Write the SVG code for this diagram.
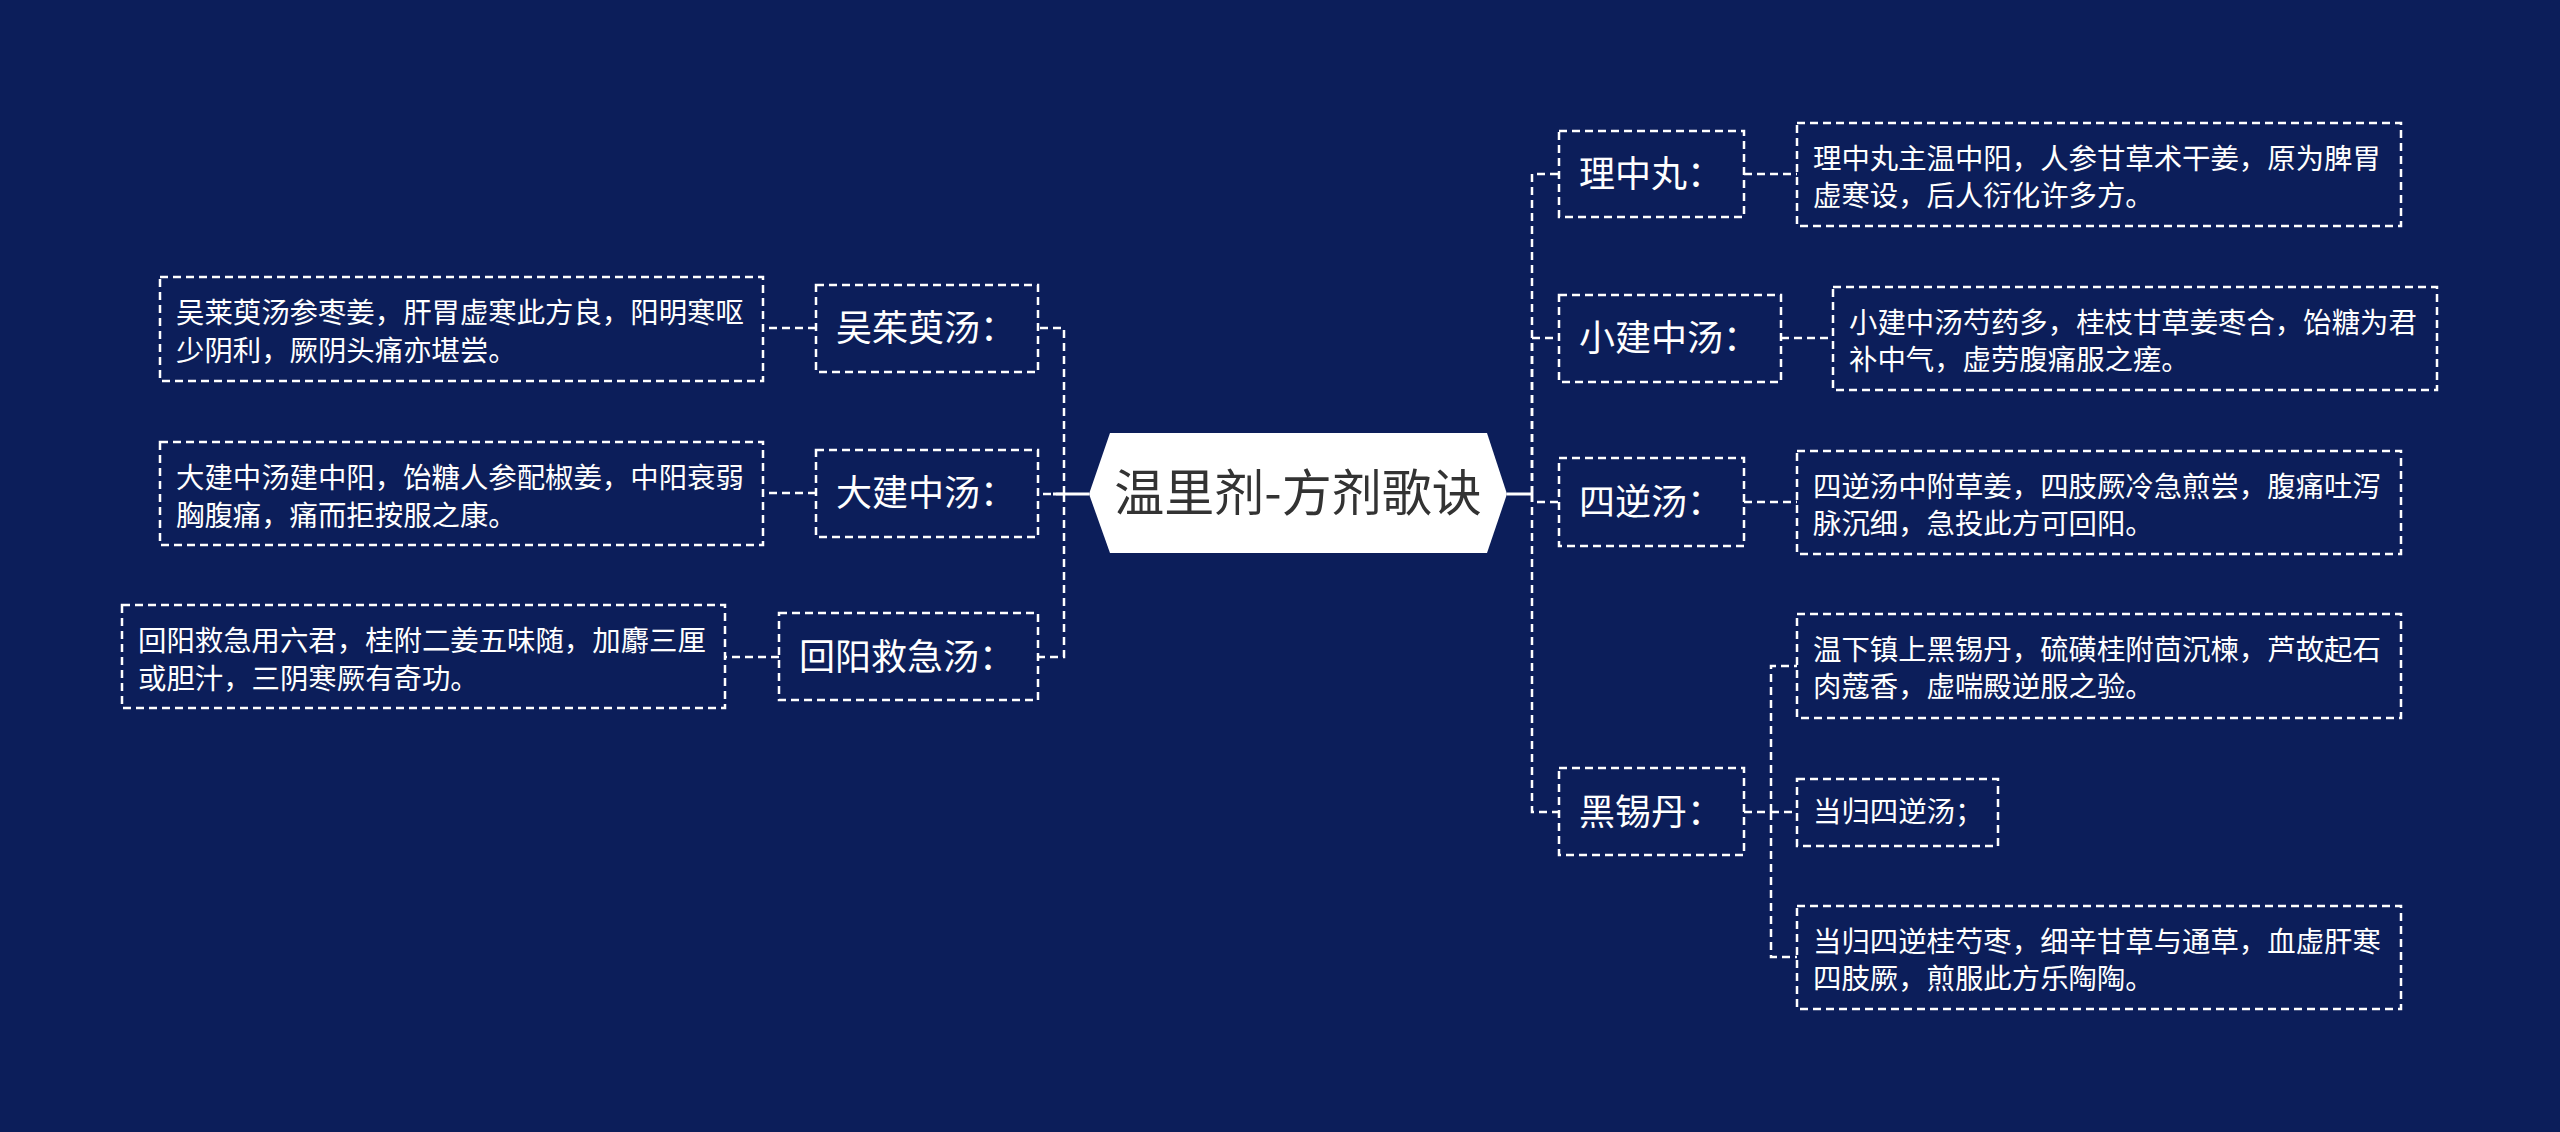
<svg xmlns="http://www.w3.org/2000/svg" width="2560" height="1132" viewBox="0 0 2560 1132">
<style>
.bg{fill:#0c1e5a}
.box{fill:none;stroke:#ffffff;stroke-width:2.5;stroke-dasharray:8 5}
.link{fill:none;stroke:#ffffff;stroke-width:2.5;stroke-dasharray:8 5}
.solid{fill:none;stroke:#ffffff;stroke-width:3}
.lbl{font-family:"Noto Sans CJK SC","Noto Sans",sans-serif;font-size:36px;fill:#ffffff}
.det{font-family:"Noto Sans CJK SC","Noto Sans",sans-serif;font-size:28.4px;fill:#ffffff}
.title{font-family:"Noto Sans CJK SC","Noto Sans",sans-serif;font-size:50px;fill:#333333}
</style>
<rect class="bg" x="0" y="0" width="2560" height="1132"/>
<g id="connectors">
<path class="solid" d="M1089 494 H1053"/>
<path class="solid" d="M1507 494 H1532"/>
<path class="link" d="M1064 494 V328 H1038"/>
<path class="link" d="M1064 494 H1038"/>
<path class="link" d="M1064 494 V657 H1038"/>
<path class="link" d="M816 328 H763"/>
<path class="link" d="M816 493 H763"/>
<path class="link" d="M779 657 H725"/>
<path class="link" d="M1532 494 V174 H1559"/>
<path class="link" d="M1532 494 V338 H1559"/>
<path class="link" d="M1532 494 V502 H1559"/>
<path class="link" d="M1532 494 V812 H1559"/>
<path class="link" d="M1744 174 H1797"/>
<path class="link" d="M1781 338 H1833"/>
<path class="link" d="M1744 502 H1797"/>
<path class="link" d="M1744 812 H1771"/>
<path class="link" d="M1771 812 V666 H1797"/>
<path class="link" d="M1771 812 H1797"/>
<path class="link" d="M1771 812 V957 H1797"/>
</g>
<g id="root">
<polygon points="1089,494 1110,433 1487,433 1507,494 1487,553 1110,553" fill="#ffffff"/>
<text class="title" x="1298" y="511" text-anchor="middle">温里剂-方剂歌诀</text>
</g>
<g id="n-wuzhuyu">
<rect class="box" x="816" y="285" width="222" height="87"/>
<text class="lbl" x="836" y="341">吴茱萸汤：</text>
</g>
<g id="d-wuzhuyu">
<rect class="box" x="160" y="277" width="603" height="104"/>
<text class="det" x="176" y="323">吴莱萸汤参枣姜，肝胃虚寒此方良，阳明寒呕</text>
<text class="det" x="176" y="361">少阴利，厥阴头痛亦堪尝。</text>
</g>
<g id="n-dajianzhong">
<rect class="box" x="816" y="450" width="222" height="87"/>
<text class="lbl" x="836" y="506">大建中汤：</text>
</g>
<g id="d-dajianzhong">
<rect class="box" x="160" y="442" width="603" height="103"/>
<text class="det" x="176" y="488">大建中汤建中阳，饴糖人参配椒姜，中阳衰弱</text>
<text class="det" x="176" y="526">胸腹痛，痛而拒按服之康。</text>
</g>
<g id="n-huiyang">
<rect class="box" x="779" y="613" width="259" height="87"/>
<text class="lbl" x="799" y="670">回阳救急汤：</text>
</g>
<g id="d-huiyang">
<rect class="box" x="122" y="605" width="603" height="103"/>
<text class="det" x="138" y="651">回阳救急用六君，桂附二姜五味随，加麝三厘</text>
<text class="det" x="138" y="689">或胆汁，三阴寒厥有奇功。</text>
</g>
<g id="n-lizhong">
<rect class="box" x="1559" y="131" width="185" height="86"/>
<text class="lbl" x="1579" y="187">理中丸：</text>
</g>
<g id="d-lizhong">
<rect class="box" x="1797" y="123" width="604" height="103"/>
<text class="det" x="1813" y="169">理中丸主温中阳，人参甘草术干姜，原为脾胃</text>
<text class="det" x="1813" y="206">虚寒设，后人衍化许多方。</text>
</g>
<g id="n-xiaojianzhong">
<rect class="box" x="1559" y="295" width="222" height="87"/>
<text class="lbl" x="1579" y="351">小建中汤：</text>
</g>
<g id="d-xiaojianzhong">
<rect class="box" x="1833" y="287" width="604" height="103"/>
<text class="det" x="1849" y="333">小建中汤芍药多，桂枝甘草姜枣合，饴糖为君</text>
<text class="det" x="1849" y="370">补中气，虚劳腹痛服之瘥。</text>
</g>
<g id="n-sini">
<rect class="box" x="1559" y="458" width="185" height="88"/>
<text class="lbl" x="1579" y="515">四逆汤：</text>
</g>
<g id="d-sini">
<rect class="box" x="1797" y="451" width="604" height="103"/>
<text class="det" x="1813" y="497">四逆汤中附草姜，四肢厥冷急煎尝，腹痛吐泻</text>
<text class="det" x="1813" y="534">脉沉细，急投此方可回阳。</text>
</g>
<g id="n-heixi">
<rect class="box" x="1559" y="768" width="185" height="87"/>
<text class="lbl" x="1579" y="825">黑锡丹：</text>
</g>
<g id="d-heixi-1">
<rect class="box" x="1797" y="614" width="604" height="104"/>
<text class="det" x="1813" y="660">温下镇上黑锡丹，硫磺桂附茴沉楝，芦故起石</text>
<text class="det" x="1813" y="697">肉蔻香，虚喘殿逆服之验。</text>
</g>
<g id="d-heixi-2">
<rect class="box" x="1797" y="779" width="201" height="67"/>
<text class="det" x="1813" y="822">当归四逆汤；</text>
</g>
<g id="d-heixi-3">
<rect class="box" x="1797" y="906" width="604" height="103"/>
<text class="det" x="1813" y="952">当归四逆桂芍枣，细辛甘草与通草，血虚肝寒</text>
<text class="det" x="1813" y="989">四肢厥，煎服此方乐陶陶。</text>
</g>
</svg>
